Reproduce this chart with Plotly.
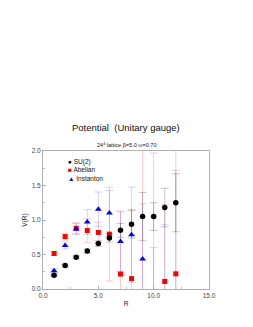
import plotly.graph_objects as go

R = [1, 2, 3, 4, 5, 6, 7, 8, 9, 10, 11, 12]
su2 = [0.20, 0.34, 0.46, 0.55, 0.66, 0.74, 0.85, 0.94, 1.05, 1.05, 1.18, 1.25]
su2_err = [0.015, 0.02, 0.02, 0.03, 0.04, 0.06, 0.10, 0.20, 0.35, 0.20, 0.28, 0.42]
abelian = [0.515, 0.76, 0.88, 0.847, 0.82, 0.795, 0.217, 0.15, -1.0, -0.4, 0.11, 0.22]
abelian_err = [0.03, 0.05, 0.08, 0.17, 0.15, 0.68, 0.9, 1.0, 3.5, 1.0, 1.12, 1.5]
inst = [0.265, 0.63, 0.87, 0.97, 1.156, 1.10, 0.69, 0.785, 0.434, -0.5, -0.5, -1.0]
inst_err = [0.03, 0.05, 0.08, 0.18, 0.25, 0.33, 0.44, 0.69, 0.8, 2.47, 1.43, 3.5]

fig = go.Figure()

def add(y, e, color, ecolor, symbol, size, name):
    fig.add_trace(go.Scatter(
        x=R, y=y, mode="markers", name=name,
        marker=dict(color=color, symbol=symbol, size=size, line=dict(width=0)),
        error_y=dict(type="data", array=e, visible=True, color=ecolor,
                     thickness=1, width=4),
        showlegend=False,
    ))

add(abelian, abelian_err, "#ff0000", "rgba(255,0,0,0.2)", "square", 5, "Abelian")
add(inst, inst_err, "#0000ff", "rgba(0,0,255,0.17)", "triangle-up", 6, "Instanton")
add(su2, su2_err, "#000000", "rgba(0,0,0,0.22)", "circle", 5.5, "SU(2)")

axis_common = dict(
    showgrid=False, zeroline=False, showline=True, mirror=True, automargin=True,
    linecolor="#b0b0b0", linewidth=1, ticks="inside", ticklen=3,
    tickcolor="#b0b0b0", tickfont=dict(size=6.5, color="#444", family="Liberation Sans"),
)

fig.update_layout(
    width=253, height=327,
    margin=dict(l=35, r=52, t=143, b=46, autoexpand=False),
    paper_bgcolor="white", plot_bgcolor="white",
    font=dict(family="Liberation Sans", color="#222"),
    xaxis=dict(range=[0, 15], dtick=5, tickformat=".1f",
               minor=dict(dtick=2.5, ticks="inside", ticklen=2, tickcolor="#c0c0c0"),
               title=dict(text="R", font=dict(size=6.5), standoff=3),
               **axis_common),
    yaxis=dict(range=[0, 2], dtick=0.5, tickformat=".1f",
               minor=dict(dtick=0.25, ticks="inside", ticklen=2, tickcolor="#c0c0c0"),
               title=dict(text="V(R)", font=dict(size=6.5), standoff=3),
               **axis_common),
    annotations=[
        dict(text="Potential  (Unitary gauge)", xref="paper", yref="paper",
             x=0.5, y=1.0, yshift=16, showarrow=False, xanchor="center", yanchor="bottom",
             font=dict(size=9.5, color="#111")),
        dict(text="24<sup>4</sup> lattice β=5.0 ω=0.70", xref="paper", yref="paper",
             x=0.5, y=1.0, yshift=1, showarrow=False, xanchor="center", yanchor="bottom",
             font=dict(size=5.5, color="#111")),
        dict(text="<span style='color:black'>●</span> SU(2)<br>"
                  "<span style='color:red'>■</span> Abelian<br>"
                  "<span style='color:blue'>▲</span> Instanton",
             xref="paper", yref="paper", x=0.14, y=0.965, showarrow=False,
             xanchor="left", yanchor="top", align="left",
             font=dict(size=6.5, color="#111")),
    ],
)

fig.write_html("out.html")
